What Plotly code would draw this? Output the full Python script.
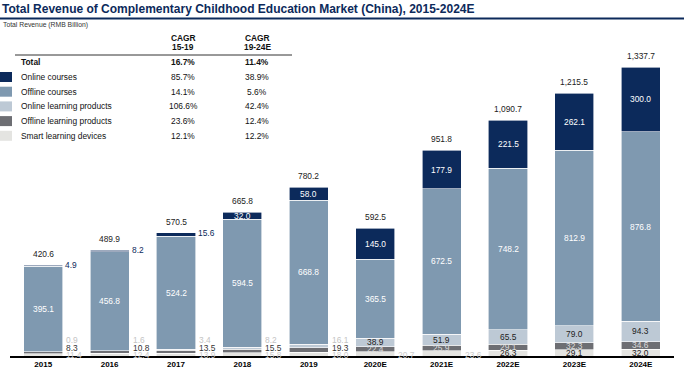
import plotly.graph_objects as go

years = ["2015", "2016", "2017", "2018", "2019", "2020E", "2021E", "2022E", "2023E", "2024E"]
online_courses = [4.9, 8.2, 15.6, 32.0, 58.0, 145.0, 177.9, 221.5, 262.1, 300.0]
offline_courses = [395.1, 456.8, 524.2, 594.5, 668.8, 365.5, 672.5, 748.2, 812.9, 876.8]
online_products = [0.9, 1.6, 3.4, 8.2, 16.1, 38.9, 51.9, 65.5, 79.0, 94.3]
offline_products = [8.3, 10.8, 13.5, 15.5, 19.3, 22.4, 25.9, 29.1, 32.3, 34.6]
smart_devices = [11.4, 12.4, 13.9, 15.8, 18.0, 20.7, 23.6, 26.3, 29.1, 32.0]
totals = [420.6, 489.9, 570.5, 665.8, 780.2, 592.5, 951.8, 1090.7, 1215.5, 1337.7]

series_names = ["Online courses", "Offline courses", "Online learning products",
                "Offline learning products", "Smart learning devices"]
cagr_15_19 = ["85.7%", "14.1%", "106.6%", "23.6%", "12.1%"]
cagr_19_24 = ["38.9%", "5.6%", "42.4%", "12.4%", "12.2%"]
total_cagr = ["16.7%", "11.4%"]

FONT = "Liberation Sans, Arial, Helvetica, sans-serif"
C_NAVY = "#0c2a5b"
C_OFFC = "#7f99b0"
C_ONP = "#bdc9d5"
C_OFFP = "#6d6e73"
C_SMART = "#e4e4e1"
colors = [C_NAVY, C_OFFC, C_ONP, C_OFFP, C_SMART]

W, H = 684, 370
ML, MR, MT, MB = 10, 10, 40, 14
PW, PH = W - ML - MR, H - MT - MB
LS = 8.4  # label font size


def px(x):
    return (x - ML) / PW


def py(y):
    return (H - MB - y) / PH


fig = go.Figure()
# stack order bottom -> top
stack = [
    ("Smart learning devices", smart_devices, C_SMART),
    ("Offline learning products", offline_products, C_OFFP),
    ("Online learning products", online_products, C_ONP),
    ("Offline courses", offline_courses, C_OFFC),
    ("Online courses", online_courses, C_NAVY),
]
for name, vals, col in stack:
    fig.add_trace(go.Bar(
        x=years, y=vals, name=name, marker=dict(color=col, line=dict(color="white", width=0.6)),
        width=0.59, showlegend=False, hoverinfo="x+y+name",
    ))

ann = []
shapes = []

def lab(x, y, text, color, **kw):
    d = dict(x=x, y=y, xref="x", yref="y", text=text, showarrow=False,
             font=dict(family=FONT, size=LS, color=color))
    d.update(kw)
    ann.append(d)

for i, yr in enumerate(years):
    s = smart_devices[i]
    op = offline_products[i]
    onp = online_products[i]
    oc = offline_courses[i]
    onc = online_courses[i]
    b1 = s
    b2 = b1 + op
    b3 = b2 + onp
    b4 = b3 + oc
    b5 = b4 + onc
    # total
    lab(i, b5, f"{totals[i]:,.1f}", "#222222", yanchor="bottom", yshift=4)
    # offline courses (inside)
    lab(i, (b3 + b4) / 2, f"{oc:.1f}", "white")
    # online courses
    if onc < 20:
        lab(i, b5, f"{onc:.1f}", C_NAVY, xanchor="left", xshift=20, yshift=0)
    else:
        lab(i, (b4 + b5) / 2, f"{onc:.1f}", "white")
    if i < 5:
        lab(i, 0, f"{onp:.1f}", "#c4c4c4", xanchor="left", xshift=21, yshift=16)
        lab(i, 0, f"{op:.1f}", "#333333", xanchor="left", xshift=21, yshift=8)
        lab(i, 0, f"{s:.1f}", "#cccccc", xanchor="left", xshift=21, yshift=1)
    else:
        lab(i, (b2 + b3) / 2, f"{onp:.1f}", "#222222")
        lab(i, (b1 + b2) / 2, f"{op:.1f}", "#dcdcdc")
        if i < 7:
            lab(i, 0, f"{s:.1f}", "#cccccc", xanchor="left", xshift=21, yshift=1)
        else:
            lab(i, b1 / 2, f"{s:.1f}", "#222222")

def ptext(x, y, text, size=LS, color="#111111", bold=False, xanchor="left"):
    ann.append(dict(x=px(x), y=py(y), xref="paper", yref="paper", text=(f"<b>{text}</b>" if bold else text),
                    showarrow=False, xanchor=xanchor, yanchor="middle",
                    font=dict(family=FONT, size=size, color=color)))

# title
ptext(0, 9, "Total Revenue of Complementary Childhood Education Market (China), 2015-2024E",
      size=12, color=C_NAVY, bold=True)
shapes.append(dict(type="line", xref="paper", yref="paper", x0=px(0), x1=px(W), y0=py(18.5), y1=py(18.5),
                   line=dict(color=C_NAVY, width=2)))
ptext(1, 25, "Total Revenue (RMB Billion)", size=6.8, color="#333333")

# table header
ptext(183, 38, "CAGR", bold=True, xanchor="center")
ptext(183, 47, "15-19", bold=True, xanchor="center")
ptext(257, 38, "CAGR", bold=True, xanchor="center")
ptext(257, 47, "19-24E", bold=True, xanchor="center")
shapes.append(dict(type="line", xref="paper", yref="paper", x0=px(15), x1=px(292), y0=py(55), y1=py(55),
                   line=dict(color="#333333", width=1)))
ptext(19, 62, "Total", bold=True)
ptext(183, 62, total_cagr[0], bold=True, xanchor="center")
ptext(257, 62, total_cagr[1], bold=True, xanchor="center")
for k, name in enumerate(series_names):
    yy = 77 + k * 14.7
    shapes.append(dict(type="rect", xref="paper", yref="paper", x0=px(0), x1=px(12),
                       y0=py(yy - 5), y1=py(yy + 5), fillcolor=colors[k], line=dict(width=0)))
    ptext(19, yy, name)
    ptext(183, yy, cagr_15_19[k], xanchor="center")
    ptext(257, yy, cagr_19_24[k], xanchor="center")

fig.update_layout(
    width=W, height=H, barmode="stack", bargap=0.41,
    margin=dict(l=ML, r=MR, t=MT, b=MB, autoexpand=False),
    plot_bgcolor="white", paper_bgcolor="white",
    font=dict(family=FONT, size=LS, color="#111111"),
    annotations=ann, shapes=shapes,
    xaxis=dict(type="category", range=[-0.5, 9.5], showline=True, linecolor="black", linewidth=1.5,
               ticks="", tickfont=dict(family=FONT, size=8, color="black", weight="bold"),
               showgrid=False, automargin=False, fixedrange=True),
    yaxis=dict(range=[0, 1463], visible=False, showgrid=False, fixedrange=True),
)

fig.write_html("out.html", config={"displayModeBar": False},
               post_script="document.body.style.margin='0';document.body.style.padding='0';")
